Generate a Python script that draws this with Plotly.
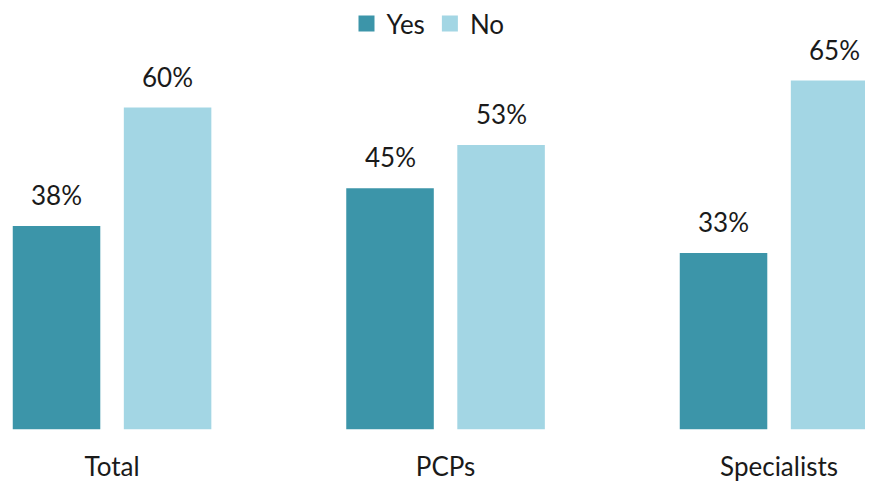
import plotly.graph_objects as go

categories = ["Total", "PCPs", "Specialists"]
yes_values = [38, 45, 33]
no_values = [60, 53, 65]

YES_COLOR = "#3C95A9"
NO_COLOR = "#A3D6E4"
FONT = "Lato"
TXT = "#1a1a1a"

x_pos = list(range(len(categories)))
BW = 0.267
OFF_YES = -0.3
OFF_NO = 0.033

fig = go.Figure()
fig.add_trace(go.Bar(
    name="Yes", x=x_pos, y=yes_values, width=BW, offset=OFF_YES, showlegend=False,
    marker=dict(color=YES_COLOR, line=dict(color="white", width=1.5)),
))
fig.add_trace(go.Bar(
    name="No", x=x_pos, y=no_values, width=BW, offset=OFF_NO, showlegend=False,
    marker=dict(color=NO_COLOR, line=dict(color="white", width=1.5)),
))
# legend entries
for name, col in [("Yes", YES_COLOR), ("No", NO_COLOR)]:
    fig.add_trace(go.Scatter(x=[None], y=[None], mode="markers", name=name,
                             marker=dict(symbol="square", size=16, color=col)))

for xi, v in zip(x_pos, yes_values):
    fig.add_annotation(x=xi + OFF_YES + BW / 2, y=v, text=f"{v}%", showarrow=False,
                       yshift=30, font=dict(size=26, family=FONT, color=TXT))
for xi, v in zip(x_pos, no_values):
    fig.add_annotation(x=xi + OFF_NO + BW / 2, y=v, text=f"{v}%", showarrow=False,
                       yshift=30, font=dict(size=26, family=FONT, color=TXT))

W = 865
fig.update_layout(
    width=W, height=475,
    margin=dict(l=0, r=0, t=0, b=53, autoexpand=False),
    plot_bgcolor="white", paper_bgcolor="white",
    font=dict(family=FONT, size=26, color=TXT),
    showlegend=True,
    legend=dict(orientation="h", x=(420 / W), xanchor="center", y=1.019, yanchor="top",
                font=dict(size=26), bgcolor="rgba(0,0,0,0)"),
    xaxis=dict(range=[-0.312, -0.312 + W / 333.5], tickvals=x_pos, ticktext=categories,
               showgrid=False, zeroline=False, showline=False, ticks="",
               ticklabelstandoff=19, tickfont=dict(size=26, family=FONT)),
    yaxis=dict(range=[0, 78.3], visible=False, showgrid=False, zeroline=False),
)

fig.write_html("out.html")
